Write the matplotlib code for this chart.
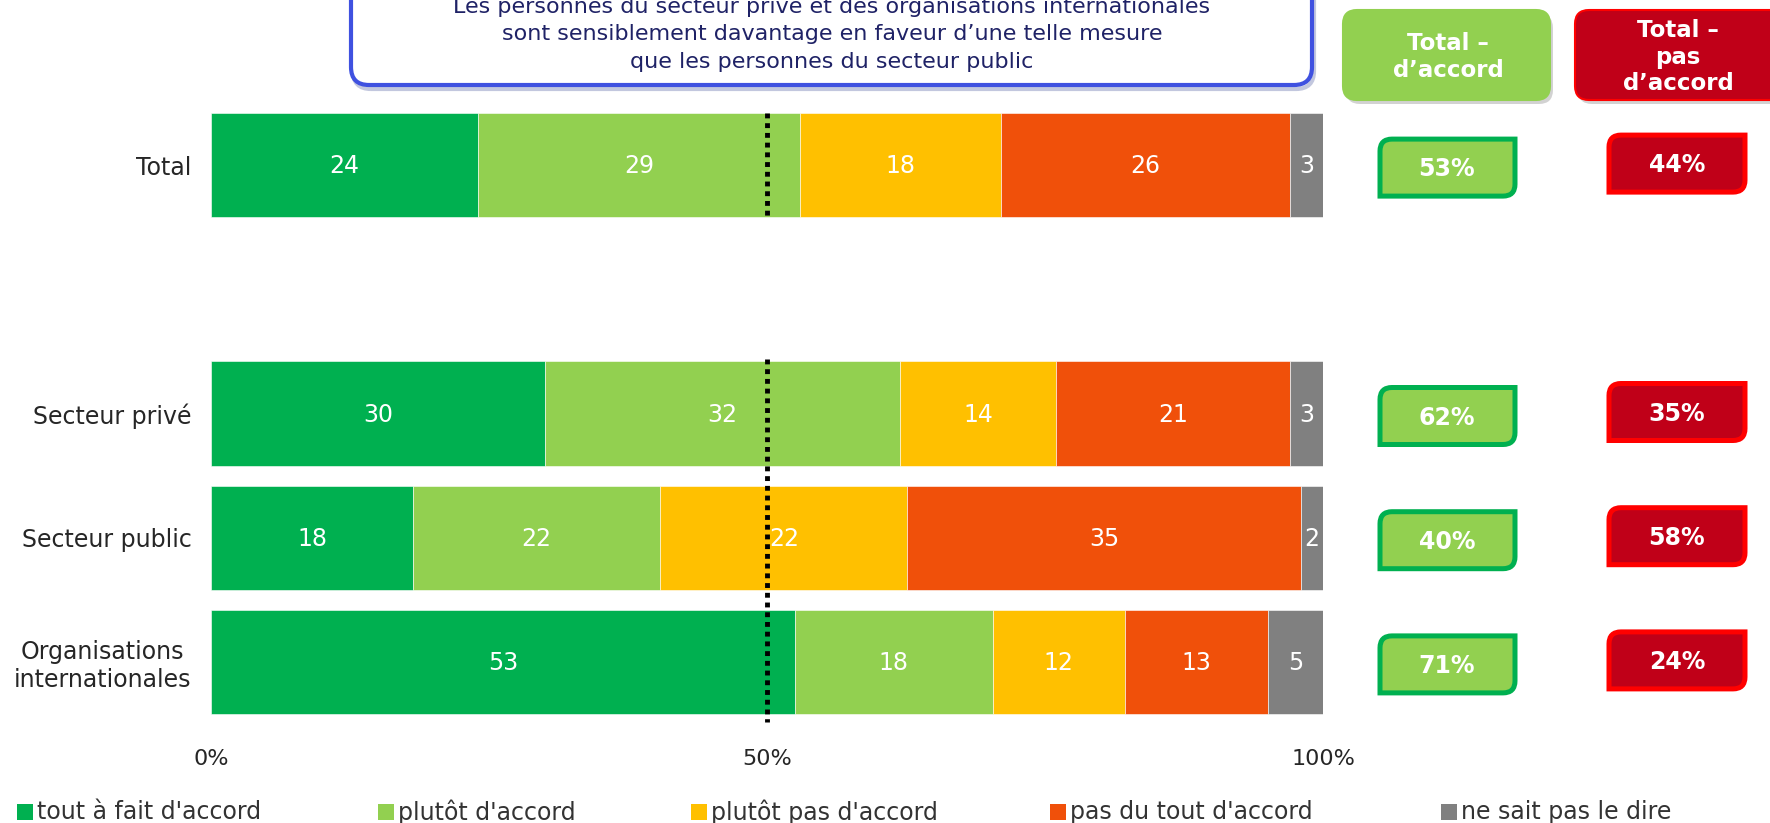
import matplotlib.pyplot as plt
from matplotlib.patches import FancyBboxPatch, PathPatch, Rectangle
from matplotlib.path import Path

# données (en %)
groups = ['Total', 'Secteur privé', 'Secteur public', 'Organisations\ninternationales']
slots = [0, 2, 3, 4]
tout_fait = [24, 30, 18, 53]
plutot = [29, 32, 22, 18]
plutot_pas = [18, 14, 22, 12]
pas_du_tout = [26, 21, 35, 13]
nsp = [3, 3, 2, 5]
total_accord = [53, 62, 40, 71]
total_pas = [44, 35, 58, 24]
series = [tout_fait, plutot, plutot_pas, pas_du_tout, nsp]
series_names = ["tout à fait d'accord", "plutôt d'accord", "plutôt pas d'accord",
                "pas du tout d'accord", "ne sait pas le dire"]
ticks = [0, 50, 100]
tick_labels = ['0%', '50%', '100%']
callout = ["Les personnes du secteur privé et des organisations internationales",
           "sont sensiblement davantage en faveur d\u2019une telle mesure",
           "que les personnes du secteur public"]

colors = ['#00B050', '#92D050', '#FFC000', '#F0500A', '#808080']
W, H = 1770, 823

fig = plt.figure(figsize=(W / 100, H / 100), dpi=100)
ax = fig.add_axes([211 / W, 1 - 724 / H, (1323 - 211) / W, (724 - 103) / H])

# barres empilées (normalisées à 100 par ligne)
for i, y in enumerate(slots):
    row = [s[i] for s in series]
    tot = sum(row)
    left = 0
    for v, c in zip(row, colors):
        w = v / tot * 100
        ax.barh(y, w, left=left, height=0.84, color=c, edgecolor='white', linewidth=0.4)
        ax.text(left + w / 2, y + 0.01, str(v), ha='center', va='center', color='white', fontsize=17)
        left += w

# ligne pointillée à 50 %
ax.plot([50, 50], [-0.42, 0.42], color='black', lw=3.5, ls=(0, (1, 1)), zorder=5)
ax.plot([50, 50], [1.56, 4.48], color='black', lw=3.5, ls=(0, (1, 1)), zorder=5)

ax.set_xlim(0, 100)
ax.set_ylim(4.5, -0.5)
ax.set_yticks(slots)
ax.set_yticklabels(groups, fontsize=17, color='#262626', multialignment='center')
ax.set_xticks(ticks)
ax.set_xticklabels(tick_labels, fontsize=16, color='#262626')
ax.tick_params(length=0, pad=18)
ax.tick_params(axis='y', pad=14)
for sp in ax.spines.values():
    sp.set_visible(False)

# calque en pixels pour les encadrés
ov = fig.add_axes([0, 0, 1, 1], facecolor='none')
ov.set_xlim(0, W)
ov.set_ylim(0, H)
ov.axis('off')


def snip_box(x0, y0, w, h, r, face, edge, lw):
    verts = [(x0, y0), (x0 + w - r, y0), (x0 + w, y0), (x0 + w, y0 + r),
             (x0 + w, y0 + h), (x0 + r, y0 + h), (x0, y0 + h), (x0, y0 + h - r),
             (x0, y0), (x0, y0)]
    codes = [Path.MOVETO, Path.LINETO, Path.CURVE3, Path.CURVE3,
             Path.LINETO, Path.LINETO, Path.CURVE3, Path.CURVE3,
             Path.LINETO, Path.CLOSEPOLY]
    ov.add_patch(PathPatch(Path(verts, codes), facecolor=face, edgecolor=edge, lw=lw))


def to_pix(y):
    return ax.transData.transform((0, y))[1]


for i, y in enumerate(slots):
    py = to_pix(y)
    snip_box(1380, py - 31, 135, 57, 12, '#92D050', '#00B050', 3.6)
    ov.text(1447, py - 4, f'{total_accord[i]}%', ha='center', va='center',
            color='white', fontsize=17, fontweight='bold')
    snip_box(1609, py - 27, 136, 57, 12, '#C00018', '#FF0000', 3.6)
    ov.text(1677, py, f'{total_pas[i]}%', ha='center', va='center',
            color='white', fontsize=17, fontweight='bold')

# en-têtes
for x0, w, face, edge, txt, tx in [
        (1343, 207, '#92D050', '#92D050', 'Total \u2013\nd\u2019accord', 1448),
        (1575, 215, '#C00018', '#FF0000', 'Total \u2013\npas\nd\u2019accord', 1678)]:
    ov.add_patch(FancyBboxPatch((x0 + 3, 719), w, 90, boxstyle='round,pad=0,rounding_size=14',
                                facecolor='#808080', edgecolor='none', alpha=0.35))
    ov.add_patch(FancyBboxPatch((x0, 723), w, 90, boxstyle='round,pad=0,rounding_size=14',
                                facecolor=face, edgecolor=edge, lw=1.5))
    ov.text(tx, 766, txt, ha='center', va='center', color='white',
            fontsize=16.5, fontweight='bold', linespacing=1.2)

# encadré de commentaire
ov.add_patch(FancyBboxPatch((353, 734), 961, 110, boxstyle='round,pad=0,rounding_size=18',
                            facecolor='none', edgecolor='#9AA2C8', lw=3, alpha=0.6))
ov.add_patch(FancyBboxPatch((351, 738), 961, 110, boxstyle='round,pad=0,rounding_size=18',
                            facecolor='white', edgecolor='#3F51E0', lw=3))
for line, ty in zip(callout, [817, 789, 761]):
    ov.text(832, ty, line, ha='center', va='center', color='#1F2266', fontsize=16)

# légende
for name, c, lx in zip(series_names, colors, [17, 378, 691, 1050, 1441]):
    ov.add_patch(Rectangle((lx, 3), 16, 16, facecolor=c, edgecolor='none'))
    ov.text(lx + 20, 11, name, ha='left', va='center', color='#333333', fontsize=17)

fig.savefig('out.png', dpi=100)
